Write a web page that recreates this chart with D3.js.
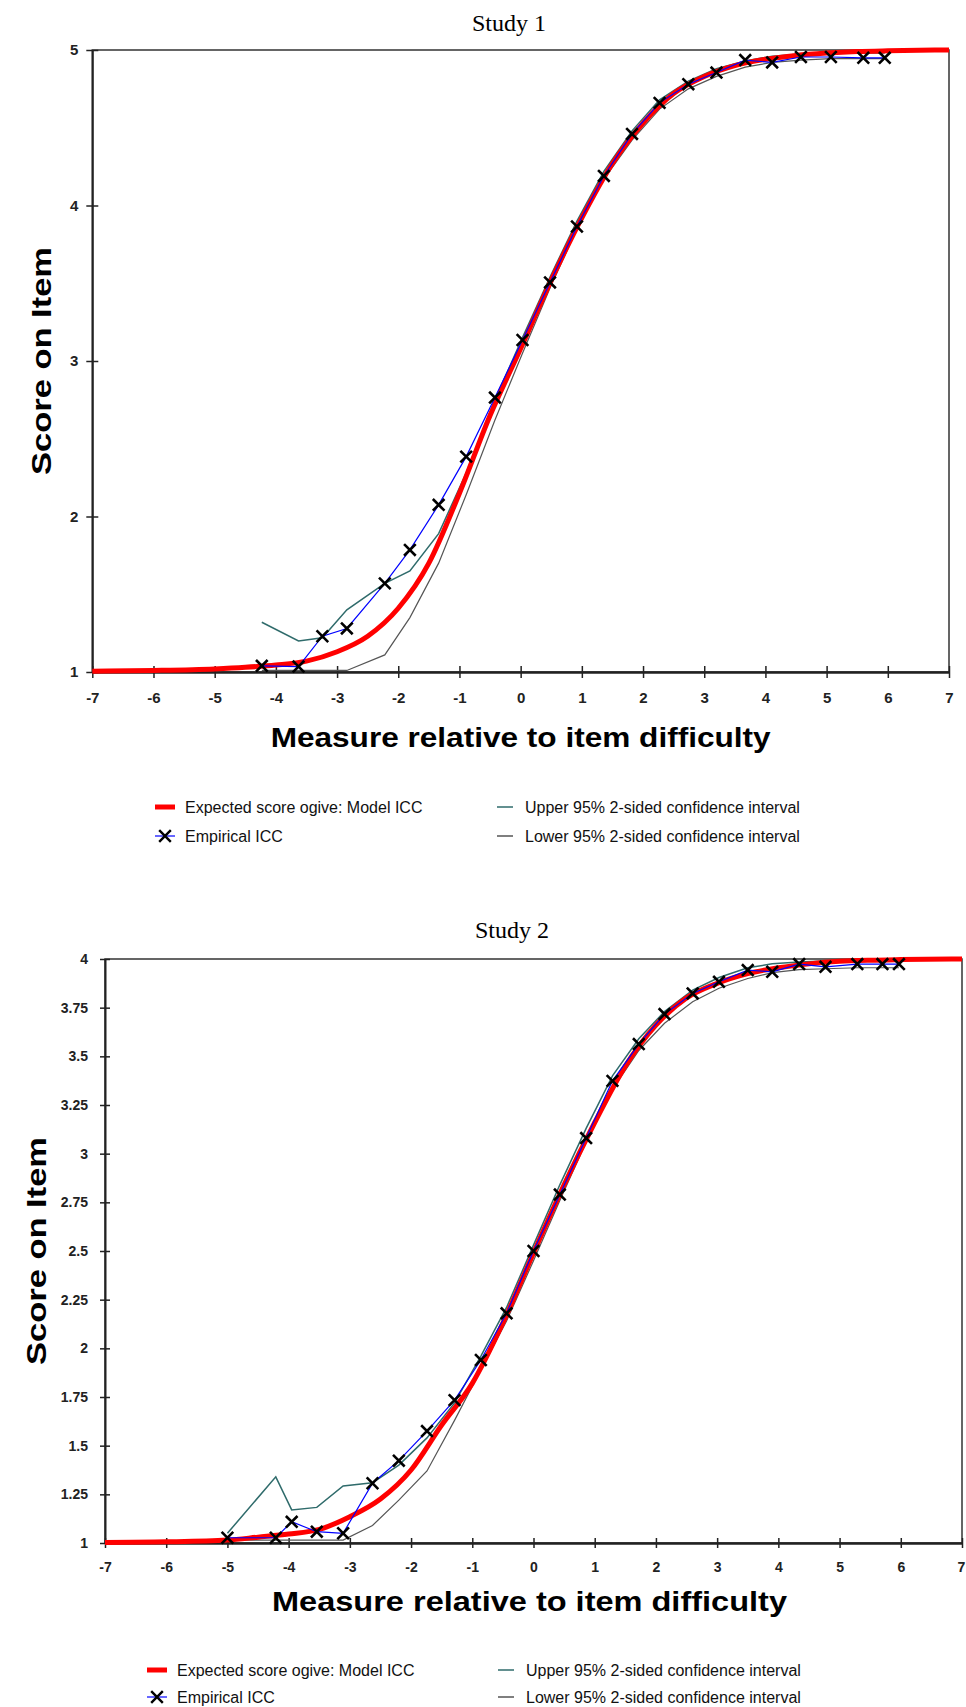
<!DOCTYPE html>
<html>
<head>
<meta charset="utf-8">
<script src="https://cdn.jsdelivr.net/npm/d3@7"></script>
<style>
  body { margin: 0; background: #fff; }
  svg { display: block; }
</style>
</head>
<body>
<svg id="chart" width="966" height="1707"></svg>
<script>
// ---------- Study 1 ----------
const s1Measure = [-4.23, -3.63, -3.24, -2.84, -2.22, -1.81, -1.34, -0.89, -0.42, 0.03, 0.48, 0.92,
                   1.36, 1.82, 2.27, 2.74, 3.20, 3.67, 4.11, 4.58, 5.07, 5.60, 5.95];
const s1Empirical = [1.04, 1.035, 1.23, 1.28, 1.57, 1.785, 2.075, 2.385, 2.765, 3.135, 3.505, 3.865,
                     4.19, 4.46, 4.66, 4.78, 4.855, 4.935, 4.92, 4.955, 4.955, 4.95, 4.95];
const s1Upper = [1.32, 1.20, 1.22, 1.40, 1.57, 1.65, 1.89, 2.28, 2.75, 3.15, 3.54, 3.90,
                 4.22, 4.48, 4.68, 4.80, 4.88, 4.93, 4.96, 4.975, 4.98, 4.98, 4.98];
const s1Lower = [1.01, 1.01, 1.01, 1.01, 1.11, 1.35, 1.70, 2.14, 2.62, 3.05, 3.47, 3.85,
                 4.17, 4.42, 4.62, 4.75, 4.83, 4.89, 4.92, 4.935, 4.945, 4.945, 4.945];
const s1ModelX = [-7, -6, -5, -4.5, -4, -3.5, -3, -2.5, -2, -1.5, -1, -0.5, 0, 0.5, 1, 1.5, 2, 2.5,
                  3, 3.5, 4, 4.5, 5, 5.5, 6, 7];
const s1Model = [1.005, 1.01, 1.02, 1.03, 1.045, 1.07, 1.13, 1.23, 1.41, 1.70, 2.15, 2.65, 3.08, 3.52,
                 3.92, 4.27, 4.53, 4.72, 4.83, 4.90, 4.94, 4.965, 4.98, 4.99, 4.995, 5.0];
const s1YTicks = [1, 2, 3, 4, 5];

// ---------- Study 2 ----------
const s2Measure = [-5.0, -4.21, -3.95, -3.54, -3.11, -2.63, -2.20, -1.74, -1.29, -0.86, -0.44, 0.00,
                   0.43, 0.86, 1.29, 1.72, 2.14, 2.60, 3.03, 3.50, 3.90, 4.34, 4.77, 5.29, 5.70, 5.97];
const s2Empirical = [1.027, 1.027, 1.109, 1.058, 1.05, 1.307, 1.423, 1.575, 1.734, 1.94, 2.18, 2.50,
                     2.79, 3.08, 3.374, 3.563, 3.717, 3.823, 3.883, 3.943, 3.934, 3.974, 3.96, 3.974, 3.974, 3.974];
const s2Upper = [1.05, 1.34, 1.17, 1.183, 1.293, 1.31, 1.40, 1.54, 1.72, 1.96, 2.21, 2.53,
                 2.84, 3.13, 3.40, 3.59, 3.73, 3.84, 3.905, 3.955, 3.975, 3.985, 3.99, 3.99, 3.99, 3.99];
const s2Lower = [1.015, 1.015, 1.015, 1.015, 1.015, 1.09, 1.22, 1.37, 1.63, 1.89, 2.14, 2.45,
                 2.76, 3.06, 3.33, 3.53, 3.67, 3.78, 3.85, 3.90, 3.93, 3.945, 3.95, 3.955, 3.955, 3.955];
const s2ModelX = [-7, -6, -5, -4.5, -4, -3.5, -3, -2.5, -2, -1.5, -1, -0.5, 0, 0.5, 1, 1.5, 2, 2.5,
                  3, 3.5, 4, 4.5, 5, 5.5, 6, 7];
const s2Model = [1.003, 1.006, 1.015, 1.03, 1.046, 1.07, 1.135, 1.226, 1.375, 1.606, 1.82, 2.13, 2.49,
                 2.84, 3.16, 3.45, 3.66, 3.80, 3.875, 3.925, 3.955, 3.975, 3.988, 3.994, 3.997, 4.0];
const s2YTicks = [1, 1.25, 1.5, 1.75, 2, 2.25, 2.5, 2.75, 3, 3.25, 3.5, 3.75, 4];

const xTicks = [-7, -6, -5, -4, -3, -2, -1, 0, 1, 2, 3, 4, 5, 6, 7];
const legendLabels = ["Expected score ogive: Model ICC", "Empirical ICC",
                      "Upper 95% 2-sided confidence interval", "Lower 95% 2-sided confidence interval"];

const COLORS = { model: "#ff0000", emp: "#0000ff", upper: "#2f6b6b", lower: "#555555", axis: "#222" };
const SANS = "'Liberation Sans', Arial, sans-serif";
const NARROW = "'Liberation Sans Narrow', 'Liberation Sans', Arial, sans-serif";
const SERIF = "'Liberation Serif', 'Times New Roman', serif";

const svg = d3.select("#chart");

/**
 * draw one study panel
 */
function drawStudy(cfg) {
    const x = d3.scaleLinear().domain([-7, 7]).range([cfg.left, cfg.right]);
    const y = d3.scaleLinear().domain(cfg.yDomain).range([cfg.bottom, cfg.top]);
    const g = svg.append("g");

    // title
    g.append("text")
        .attr("x", cfg.titleX).attr("y", cfg.titleY)
        .attr("text-anchor", "middle")
        .style("font-family", SERIF).style("font-size", "24px")
        .text(cfg.title);

    // frame (top + right)
    g.append("rect")
        .attr("x", cfg.left).attr("y", cfg.top)
        .attr("width", cfg.right - cfg.left).attr("height", cfg.bottom - cfg.top)
        .attr("fill", "none").attr("stroke", "#333").attr("stroke-width", 1.5);

    // y axis
    const yAxis = g.append("g")
        .attr("transform", "translate(" + cfg.left + ",0)")
        .call(d3.axisLeft(y).tickValues(cfg.yTicks).tickFormat(d => String(d))
              .tickSizeOuter(0).tickSizeInner(cfg.tick).tickPadding(cfg.yPad));
    yAxis.select(".domain").attr("stroke", COLORS.axis).attr("stroke-width", 2);
    yAxis.selectAll(".tick line").attr("x1", -cfg.tick).attr("x2", cfg.tick)
        .attr("stroke", COLORS.axis).attr("stroke-width", 1.5);
    yAxis.selectAll(".tick text")
        .style("font-family", cfg.tickFont).style("font-size", cfg.tickSize)
        .style("font-weight", "bold").attr("fill", "#222");

    // x axis
    const xAxis = g.append("g")
        .attr("transform", "translate(0," + cfg.bottom + ")")
        .call(d3.axisBottom(x).tickValues(xTicks).tickFormat(d => String(d))
              .tickSizeOuter(0).tickSizeInner(cfg.tick).tickPadding(cfg.xPad));
    xAxis.select(".domain").attr("stroke", COLORS.axis).attr("stroke-width", 2.5);
    xAxis.selectAll(".tick line").attr("y1", -cfg.tick).attr("y2", cfg.tick)
        .attr("stroke", COLORS.axis).attr("stroke-width", 1.5);
    xAxis.selectAll(".tick text")
        .style("font-family", cfg.tickFont).style("font-size", cfg.tickSize)
        .style("font-weight", "bold").attr("fill", "#222")
        .attr("dx", d => d === 7 ? cfg.lastTickDx : 0);

    // axis titles
    g.append("text")
        .attr("x", (cfg.left + cfg.right) / 2 + cfg.xTitleShift).attr("y", cfg.xTitleY)
        .attr("text-anchor", "middle")
        .attr("textLength", cfg.xTitleLen).attr("lengthAdjust", "spacingAndGlyphs")
        .style("font-family", SANS).style("font-size", "28px").style("font-weight", "bold")
        .text("Measure relative to item difficulty");
    g.append("text")
        .attr("transform", "translate(" + cfg.yTitleX + "," + (cfg.top + cfg.bottom) / 2 + ") rotate(-90)")
        .attr("text-anchor", "middle")
        .attr("textLength", cfg.yTitleLen).attr("lengthAdjust", "spacingAndGlyphs")
        .style("font-family", SANS).style("font-size", "28px").style("font-weight", "bold")
        .text("Score on Item");

    // series
    const pts = (xs, ys) => xs.map((v, i) => [v, ys[i]]);
    const line = d3.line().x(d => x(d[0])).y(d => y(d[1]));
    const smooth = d3.line().x(d => x(d[0])).y(d => y(d[1])).curve(d3.curveMonotoneX);
    const plot = g.append("g");

    plot.append("path").datum(pts(cfg.measure, cfg.lower))
        .attr("d", line).attr("fill", "none").attr("stroke", COLORS.lower).attr("stroke-width", 1.2);
    plot.append("path").datum(pts(cfg.measure, cfg.upper))
        .attr("d", line).attr("fill", "none").attr("stroke", COLORS.upper).attr("stroke-width", 1.5);
    plot.append("path").datum(pts(cfg.modelX, cfg.model))
        .attr("d", smooth).attr("fill", "none").attr("stroke", COLORS.model).attr("stroke-width", 5);
    plot.append("path").datum(pts(cfg.measure, cfg.emp))
        .attr("d", line).attr("fill", "none").attr("stroke", COLORS.emp).attr("stroke-width", 1.2);

    // symbolTimes is a stroke symbol
    const cross = d3.symbol().type(d3.symbolTimes).size(90);
    plot.selectAll(".mk").data(pts(cfg.measure, cfg.emp)).enter()
        .append("path")
        .attr("transform", d => "translate(" + x(d[0]) + "," + y(d[1]) + ")")
        .attr("d", cross).attr("fill", "none").attr("stroke", "#000").attr("stroke-width", 2.6);

    // legend
    const lg = g.append("g");
    const rows = [cfg.legendY, cfg.legendY + cfg.legendGap];
    const items = [
        { col: 0, row: 0, kind: "model" },
        { col: 0, row: 1, kind: "emp" },
        { col: 1, row: 0, kind: "upper" },
        { col: 1, row: 1, kind: "lower" }
    ];
    items.forEach((it, i) => {
        const sx = cfg.legendX[it.col], sy = rows[it.row];
        if (it.kind === "model") {
            lg.append("line").attr("x1", sx).attr("x2", sx + 20).attr("y1", sy).attr("y2", sy)
                .attr("stroke", COLORS.model).attr("stroke-width", 5);
        } else if (it.kind === "emp") {
            lg.append("line").attr("x1", sx).attr("x2", sx + 20).attr("y1", sy).attr("y2", sy)
                .attr("stroke", COLORS.emp).attr("stroke-width", 1.2);
            lg.append("path").attr("transform", "translate(" + (sx + 10) + "," + sy + ")")
                .attr("d", cross).attr("fill", "none").attr("stroke", "#000").attr("stroke-width", 2.4);
        } else {
            lg.append("line").attr("x1", sx + 2).attr("x2", sx + 18).attr("y1", sy).attr("y2", sy)
                .attr("stroke", COLORS[it.kind]).attr("stroke-width", 1.5);
        }
        lg.append("text")
            .attr("x", sx + cfg.legendTextDx).attr("y", sy + 5.5)
            .style("font-family", SANS).style("font-size", "16px").attr("fill", "#111")
            .text(legendLabels[i]);
    });
}

drawStudy({
    title: "Study 1", titleX: 509, titleY: 31,
    left: 92.3, right: 949, top: 50, bottom: 672,
    yDomain: [1, 5], yTicks: s1YTicks, tick: 6, yPad: 8, xPad: 14,
    tickFont: NARROW, tickSize: "15px", lastTickDx: 0,
    xTitleY: 747, xTitleShift: 0, xTitleLen: 500,
    yTitleX: 51, yTitleLen: 228,
    measure: s1Measure, emp: s1Empirical, upper: s1Upper, lower: s1Lower,
    modelX: s1ModelX, model: s1Model,
    legendX: [155, 495], legendY: 807, legendGap: 29, legendTextDx: 30
});

drawStudy({
    title: "Study 2", titleX: 512, titleY: 938,
    left: 105, right: 962, top: 959, bottom: 1543,
    yDomain: [1, 4], yTicks: s2YTicks, tick: 5, yPad: 12, xPad: 14,
    tickFont: SANS, tickSize: "14px", lastTickDx: -1,
    xTitleY: 1611, xTitleShift: -4, xTitleLen: 515,
    yTitleX: 46, yTitleLen: 228,
    measure: s2Measure, emp: s2Empirical, upper: s2Upper, lower: s2Lower,
    modelX: s2ModelX, model: s2Model,
    legendX: [147, 496], legendY: 1670, legendGap: 27, legendTextDx: 30
});
</script>
</body>
</html>
